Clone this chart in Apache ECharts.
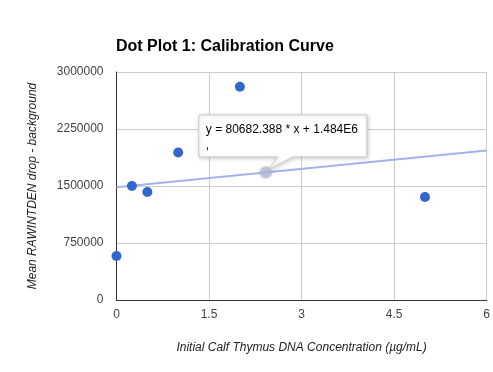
<!DOCTYPE html>
<html>
<head>
<meta charset="utf-8">
<script src="https://cdn.jsdelivr.net/npm/echarts@6/dist/echarts.min.js"></script>
<style>
html,body{margin:0;padding:0;background:#fff;}
#main{width:493px;height:372px;}
</style>
</head>
<body>
<div id="main"></div>
<script>
// Data
const xValues = [0, 0.25, 0.5, 1, 2, 5];
const yValues = [580000, 1500000, 1420000, 1940000, 2805000, 1355000];
const trendSlope = 80682.388;
const trendIntercept = 1484000;
const trendRange = [0, 6];
const tooltipX = 2.42;
const tooltipLines = ['y = 80682.388 * x + 1.484E6', ','];
const titleText = 'Dot Plot 1: Calibration Curve';
const xAxisName = 'Initial Calf Thymus DNA Concentration (\u00b5g/mL)';
const yAxisName = 'Mean RAWINTDEN drop - background';

const points = xValues.map((x, i) => [x, yValues[i]]);
const trendPoints = trendRange.map(x => [x, trendSlope * x + trendIntercept]);
const font = '"Liberation Sans", Arial, sans-serif';

const chart = echarts.init(document.getElementById('main'), null, {renderer: 'canvas'});
chart.setOption({
  animation: false,
  backgroundColor: '#fff',
  title: {
    text: titleText, left: 111, top: 34,
    textStyle: {fontFamily: font, fontSize: 16, fontWeight: 'bold', color: '#000'}
  },
  grid: {left: 116.5, right: 6.3, top: 72, bottom: 72, containLabel: false},
  xAxis: {
    type: 'value', min: 0, max: 6, interval: 1.5,
    name: xAxisName, nameLocation: 'middle', nameGap: 42,
    nameTextStyle: {fontFamily: font, fontSize: 12, fontStyle: 'italic', color: '#222'},
    axisLine: {show: true, onZero: false, lineStyle: {color: '#333', width: 1}},
    axisTick: {show: false},
    axisLabel: {fontFamily: font, fontSize: 12, color: '#444', margin: 9},
    splitLine: {show: true, lineStyle: {color: '#ccc', width: 1}}
  },
  yAxis: {
    type: 'value', min: 0, max: 3000000, interval: 750000,
    name: yAxisName, nameLocation: 'middle', nameGap: 78,
    nameTextStyle: {fontFamily: font, fontSize: 12, fontStyle: 'italic', color: '#222'},
    axisLine: {show: true, onZero: false, lineStyle: {color: '#333', width: 1}},
    axisTick: {show: false},
    axisLabel: {fontFamily: font, fontSize: 12, color: '#444', margin: 13,
      formatter: v => String(v)},
    splitLine: {show: true, lineStyle: {color: '#ccc', width: 1}}
  },
  series: [
    {
      type: 'line', data: trendPoints, symbol: 'none', silent: true,
      lineStyle: {color: '#a3b2ec', width: 2}, z: 2
    },
    {
      type: 'scatter', data: [[tooltipX, trendSlope * tooltipX + trendIntercept]],
      symbolSize: 12, silent: true,
      itemStyle: {color: '#b4bfdc', shadowColor: 'rgba(0,0,0,0.25)', shadowBlur: 3}, z: 3
    },
    {
      type: 'scatter', data: points, symbolSize: 10,
      itemStyle: {color: '#3366cc', opacity: 1}, z: 4
    }
  ]
});

// Callout tooltip anchored to the trendline point
const anchor = chart.convertToPixel({gridIndex: 0}, [tooltipX, trendSlope * tooltipX + trendIntercept]);
const bx = anchor[0] - 67, by = anchor[1] - 57.5, bw = 168, bh = 42;
const tailL = anchor[0] + 12, tailR = anchor[0] + 27;
chart.setOption({
  graphic: [
    {
      type: 'polygon', z: 100,
      shape: {points: [
        [bx, by], [bx + bw, by], [bx + bw, by + bh], [tailR, by + bh],
        [anchor[0] + 3, anchor[1] - 3], [tailL, by + bh], [bx, by + bh]
      ]},
      style: {fill: '#fff', stroke: '#ccc', lineWidth: 1,
        shadowColor: 'rgba(0,0,0,0.2)', shadowBlur: 4, shadowOffsetX: 1, shadowOffsetY: 1}
    },
    {
      type: 'text', z: 101, left: bx + 7, top: by + 7,
      style: {text: tooltipLines.join('\n'), font: '12px ' + font, fill: '#000', lineHeight: 16}
    }
  ]
});
</script>
</body>
</html>
